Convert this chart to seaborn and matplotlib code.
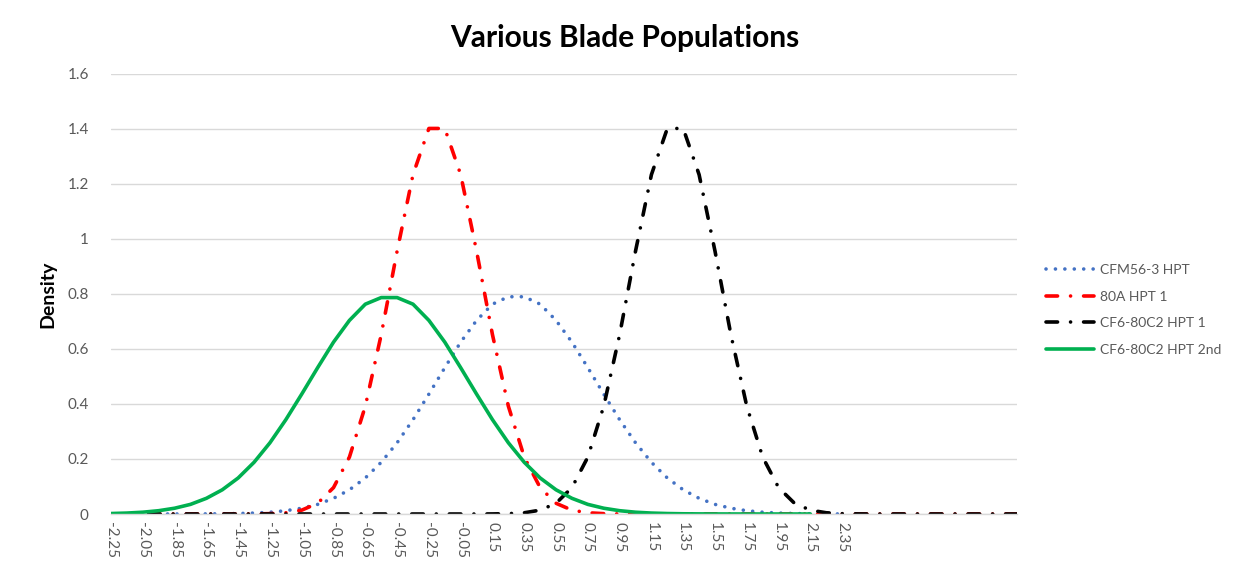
import numpy as np
import pandas as pd
import seaborn as sns
import matplotlib.pyplot as plt

# category axis (x) - one value every 0.1
x_cats = [-2.25, -2.15, -2.05, -1.95, -1.85, -1.75, -1.65, -1.55, -1.45, -1.35,
          -1.25, -1.15, -1.05, -0.95, -0.85, -0.75, -0.65, -0.55, -0.45, -0.35,
          -0.25, -0.15, -0.05, 0.05, 0.15, 0.25, 0.35, 0.45, 0.55, 0.65,
          0.75, 0.85, 0.95, 1.05, 1.15, 1.25, 1.35, 1.45, 1.55, 1.65,
          1.75, 1.85, 1.95, 2.05, 2.15, 2.25, 2.35, 2.45, 2.55, 2.65,
          2.75, 2.85, 2.95, 3.05, 3.15, 3.25, 3.35, 3.45]

tick_labels = ["-2.25", "-2.05", "-1.85", "-1.65", "-1.45", "-1.25", "-1.05", "-0.85",
               "-0.65", "-0.45", "-0.25", "-0.05", "0.15", "0.35", "0.55", "0.75",
               "0.95", "1.15", "1.35", "1.55", "1.75", "1.95", "2.15", "2.35"]

cfm56_hpt = [0, 0, 0, 0, 0.0001, 0.0002, 0.0004, 0.0008, 0.0017, 0.0034,
             0.0065, 0.012, 0.021, 0.035, 0.057, 0.088, 0.131, 0.188, 0.259, 0.343,
             0.436, 0.532, 0.625, 0.704, 0.763, 0.79, 0.79, 0.763, 0.704, 0.625,
             0.532, 0.436, 0.343, 0.259, 0.188, 0.131, 0.088, 0.057, 0.035, 0.021,
             0.012, 0.0065, 0.0034, 0.0017, 0.0008, 0.0004, 0.0002]

hpt_80a = [0, 0, 0, 0, 0, 0, 0, 0, 0, 0.0003,
           0.0013, 0.0045, 0.014, 0.039, 0.096, 0.207, 0.392, 0.652, 0.956, 1.234,
           1.402, 1.402, 1.234, 0.956, 0.652, 0.392, 0.207, 0.096, 0.039, 0.014,
           0.0045, 0.0013, 0.0003, 0, 0, 0, 0, 0, 0, 0,
           0, 0, 0, 0, 0, 0, 0, 0, 0, 0,
           0, 0, 0, 0, 0, 0, 0, 0]

cf6_hpt1 = [0, 0, 0, 0, 0, 0, 0, 0, 0, 0,
            0, 0, 0, 0, 0, 0, 0, 0, 0, 0,
            0, 0, 0, 0, 0.0003, 0.0013, 0.0045, 0.014, 0.039, 0.096,
            0.207, 0.392, 0.652, 0.956, 1.234, 1.402, 1.402, 1.234, 0.956, 0.652,
            0.392, 0.207, 0.096, 0.039, 0.014, 0.0045, 0.0013, 0.0003, 0, 0,
            0, 0, 0, 0, 0, 0, 0, 0]

cf6_hpt2 = [0.0017, 0.0034, 0.0065, 0.012, 0.021, 0.035, 0.057, 0.088, 0.131, 0.188,
            0.259, 0.343, 0.436, 0.532, 0.625, 0.704, 0.763, 0.787, 0.787, 0.763,
            0.704, 0.625, 0.532, 0.436, 0.343, 0.259, 0.188, 0.131, 0.088, 0.057,
            0.035, 0.021, 0.012, 0.0065, 0.0034, 0.0017, 0.0008, 0.0004, 0.0002, 0.0001,
            0, 0, 0, 0, 0]

series = [
    ("CFM56-3 HPT", cfm56_hpt, "#4472C4", (0, (0.01, 2.6))),
    ("80A HPT 1", hpt_80a, "#FF0000", (0, (3.2, 3.6, 0.01, 3.6))),
    ("CF6-80C2 HPT 1", cf6_hpt1, "#000000", (0, (3.2, 3.6, 0.01, 3.6))),
    ("CF6-80C2 HPT 2nd", cf6_hpt2, "#00B050", "-"),
]

sns.set_theme(style="white")
plt.rcParams['font.family'] = ['Lato', 'DejaVu Sans']

fig = plt.figure(figsize=(12.38, 5.63), dpi=100)
ax = fig.add_axes([111 / 1238, 1 - 514 / 563, (1017 - 111) / 1238, (514 - 74) / 563])

for name, vals, col, ls in series:
    df = pd.DataFrame({"x": x_cats[:len(vals)], "density": vals})
    sns.lineplot(data=df, x="x", y="density", ax=ax, color=col, lw=2.6,
                 linestyle=ls, dash_capstyle="round", solid_joinstyle="round",
                 label=name)

ax.set_xlim(-2.25, 3.45)
ax.set_ylim(0, 1.6)
ax.set_yticks([0, 0.2, 0.4, 0.6, 0.8, 1.0, 1.2, 1.4, 1.6])
ax.set_yticklabels(["0", "0.2", "0.4", "0.6", "0.8", "1", "1.2", "1.4", "1.6"])
ax.set_xticks([float(t) for t in tick_labels])
ax.set_xticklabels(tick_labels, rotation=270)
ax.tick_params(axis="both", length=0, labelsize=11, colors="#595959")
ax.tick_params(axis="x", pad=6)
ax.tick_params(axis="y", pad=16)
ax.yaxis.grid(True, color="#d9d9d9", lw=1)
ax.set_axisbelow(True)
for s in ["left", "top", "right"]:
    ax.spines[s].set_visible(False)
ax.spines["bottom"].set_color("#d9d9d9")
ax.spines["bottom"].set_linewidth(1)

ax.set_xlabel("")
ax.set_ylabel("Density", fontsize=14, fontweight="bold", color="black", labelpad=8)
fig.text(0.505, 1 - 38 / 563, "Various Blade Populations", ha="center", va="center",
         fontsize=21.5, fontweight="bold", color="black")

ax.legend(loc="center left", bbox_to_anchor=(1033 / 1238, 1 - 310 / 563),
          bbox_transform=fig.transFigure, frameon=False, fontsize=10,
          labelcolor="#595959", handlelength=3.5, handletextpad=0.4, labelspacing=1.05)

fig.savefig("out.png", dpi=100)
